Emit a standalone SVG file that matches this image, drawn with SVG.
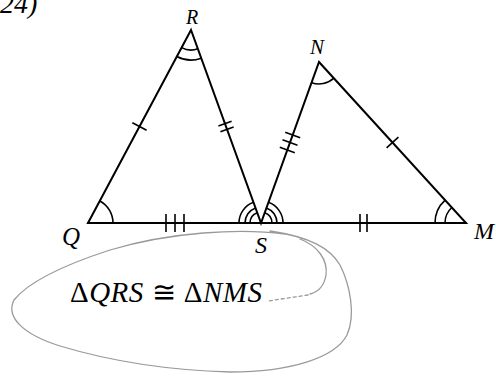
<svg xmlns="http://www.w3.org/2000/svg" width="496" height="377" viewBox="0 0 496 377">
<style>
.ln{stroke:#000;stroke-width:2;fill:none;stroke-linecap:round}
.arc{stroke:#000;stroke-width:1.6;fill:none}
.tk{stroke:#000;stroke-width:1.6;fill:none}
.lbl{font-family:'Liberation Serif','DejaVu Serif',serif;font-style:italic;fill:#000}
.up{font-style:normal}
.pen{stroke:#9a9a9a;stroke-width:1.3;fill:none;stroke-linecap:round}
</style>
<rect width="496" height="377" fill="#fff"/>
<text class="lbl" x="0" y="13" font-size="28">24)</text>
<g id="connectors">
<path class="ln" d="M88 223 L191 30 L261 223 L319 62 L466 223 Z"/>
<line class="ln" x1="88" y1="223" x2="466" y2="223"/>
</g>
<g id="angles">
<path class="arc" d="M113 223 A25 25 0 0 0 99.8 200.95"/>
<path class="arc" d="M181.58 47.64 A20 20 0 0 0 197.82 48.8"/>
<path class="arc" d="M176.88 56.46 A30 30 0 0 0 201.23 58.2"/>
<path class="arc" d="M250 223 A11 11 0 0 1 257.25 212.66"/>
<path class="arc" d="M245 223 A16 16 0 0 1 255.54 207.96"/>
<path class="arc" d="M239 223 A22 22 0 0 1 253.5 202.32"/>
<path class="arc" d="M264.73 212.65 A11 11 0 0 1 272 223"/>
<path class="arc" d="M266.42 207.94 A16 16 0 0 1 277 223"/>
<path class="arc" d="M268.46 202.3 A22 22 0 0 1 283 223"/>
<path class="arc" d="M311.54 82.7 A22 22 0 0 0 333.88 78.2"/>
<path class="arc" d="M445 223 A21 21 0 0 1 451.84 207.49"/>
<path class="arc" d="M435 223 A31 31 0 0 1 445.1 200.11"/>
</g>
<g id="ticks">
<line class="tk" x1="132.4" y1="122.7" x2="146.6" y2="130.3"/>
<line class="tk" x1="218.4" y1="126.1" x2="231.6" y2="121.3"/>
<line class="tk" x1="220.4" y1="131.7" x2="233.6" y2="126.9"/>
<line class="tk" x1="285.2" y1="132.3" x2="300.2" y2="137.7"/>
<line class="tk" x1="282.5" y1="139.8" x2="297.5" y2="145.2"/>
<line class="tk" x1="279.8" y1="147.3" x2="294.8" y2="152.7"/>
<line class="tk" x1="386.6" y1="147.9" x2="398.4" y2="137.1"/>
<line class="tk" x1="166" y1="214" x2="166" y2="232"/>
<line class="tk" x1="175" y1="214" x2="175" y2="232"/>
<line class="tk" x1="184" y1="214" x2="184" y2="232"/>
<line class="tk" x1="360" y1="214" x2="360" y2="232"/>
<line class="tk" x1="367" y1="214" x2="367" y2="232"/>
</g>
<g id="labels">
<text class="lbl" x="192" y="24" font-size="20" text-anchor="middle">R</text>
<text class="lbl" x="317" y="54" font-size="21" text-anchor="middle">N</text>
<text class="lbl" x="71" y="245" font-size="25" text-anchor="middle">Q</text>
<text class="lbl" x="261" y="253" font-size="24" text-anchor="middle">S</text>
<text class="lbl" x="484" y="239" font-size="24" text-anchor="middle">M</text>
</g>
<g id="note">
<path class="pen" d="M285 234 C240 228 170 232 110 250 C70 263 30 280 14 300 C5 318 25 335 60 346 C100 358 160 370 230 372 C290 372 335 358 347 335 C356 315 350 285 340 265 C330 248 310 237 270 231"/>
<path class="pen" d="M300 239 C318 246 328 260 326 275 C324 287 318 292 310 294"/>
<path class="pen" d="M308 295 L268 301" stroke-dasharray="3 3"/>
<text class="lbl" x="70" y="302" font-size="29" textLength="192" lengthAdjust="spacing"><tspan class="up">Δ</tspan>QRS <tspan class="up">≅</tspan> <tspan class="up">Δ</tspan>NMS</text>
</g>
</svg>
